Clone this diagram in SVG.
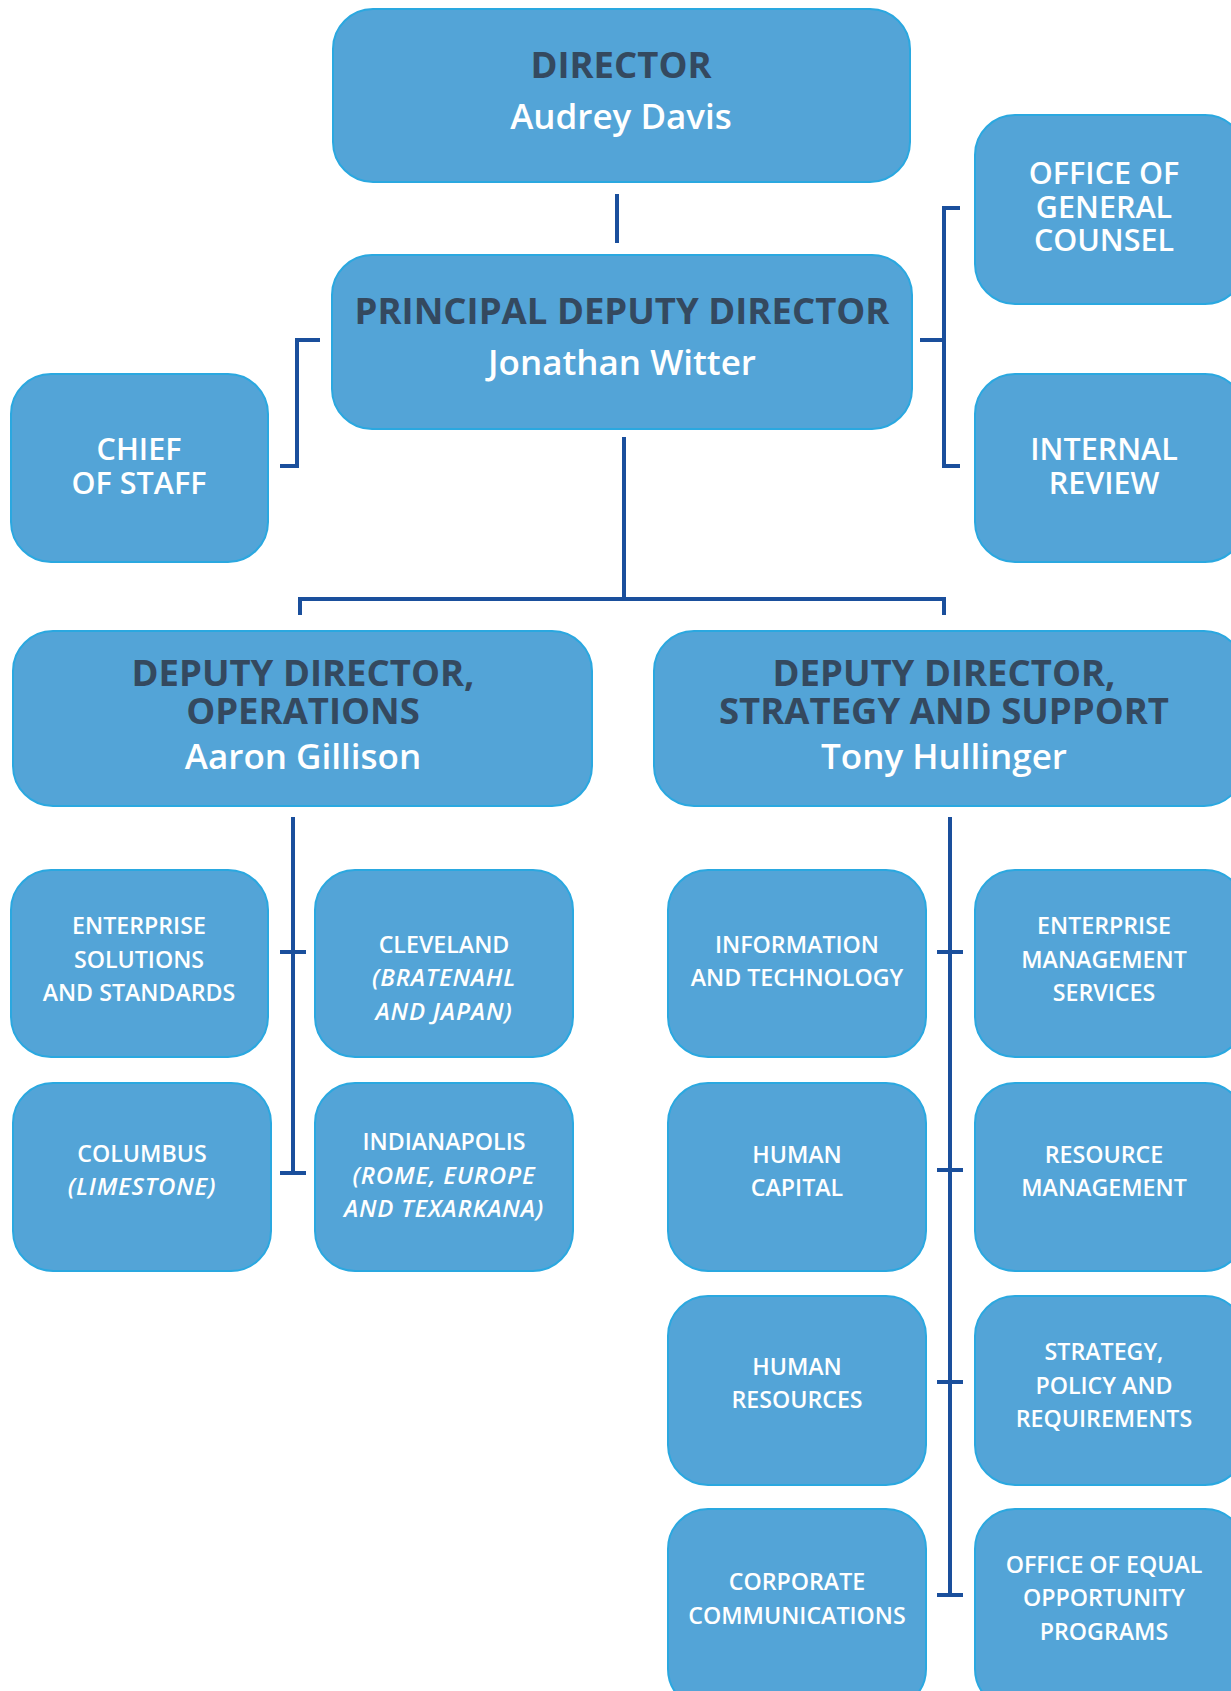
<svg xmlns="http://www.w3.org/2000/svg" width="1231" height="1691" viewBox="0 0 1231 1691">
<style>
.box{fill:#53a4d7;stroke:#2aa8e0;stroke-width:2}
.t{font-family:"Open Sans","Noto Sans","Liberation Sans",sans-serif;text-anchor:middle}
.dk{fill:#34495f;font-weight:700;font-size:36.5px}
.nm{fill:#ffffff;font-weight:600;font-size:35px}
.md{fill:#ffffff;font-weight:600;font-size:30.5px}
.sm{fill:#ffffff;font-weight:600;font-size:23.2px}
.it{font-style:italic;font-size:24px;letter-spacing:0.8px}
.ln{stroke:#1a4f9c;stroke-width:4;fill:none}
</style>
<rect width="1231" height="1691" fill="#ffffff"/>
<g id="connectors">
<path class="ln" d="M617 194V243"/>
<path class="ln" d="M320 340H297V466H280"/>
<path class="ln" d="M960 208H944V466H960M920 340H944"/>
<path class="ln" d="M624 437V599M300 615V599H944V615"/>
<path class="ln" d="M293 817V1173M280 952H306M280 1173H306"/>
<path class="ln" d="M950 817V1595M937 952H963M937 1170H963M937 1382H963M937 1595H963"/>
</g>
<g id="director"><rect class="box" x="333" y="9" width="577" height="173" rx="40"/>
<text class="t dk" x="621" y="78">DIRECTOR</text>
<text class="t nm" x="621" y="129">Audrey Davis</text></g>
<g id="pdd"><rect class="box" x="332" y="255" width="580" height="174" rx="40"/>
<text class="t dk" x="622" y="324">PRINCIPAL DEPUTY DIRECTOR</text>
<text class="t nm" x="622" y="375">Jonathan Witter</text></g>
<g id="chief-of-staff"><rect class="box" x="11" y="374" width="257" height="188" rx="40"/>
<text class="t md" x="139" y="460">CHIEF</text>
<text class="t md" x="139" y="494">OF STAFF</text></g>
<g id="general-counsel"><rect class="box" x="975" y="115" width="270" height="189" rx="40"/>
<text class="t md" x="1104" y="184">OFFICE OF</text>
<text class="t md" x="1104" y="218">GENERAL</text>
<text class="t md" x="1104" y="251">COUNSEL</text></g>
<g id="internal-review"><rect class="box" x="975" y="374" width="270" height="188" rx="40"/>
<text class="t md" x="1104" y="460">INTERNAL</text>
<text class="t md" x="1104" y="494">REVIEW</text></g>
<g id="dd-operations"><rect class="box" x="13" y="631" width="579" height="175" rx="40"/>
<text class="t dk" x="303" y="686">DEPUTY DIRECTOR,</text>
<text class="t dk" x="303" y="724">OPERATIONS</text>
<text class="t nm" x="303" y="769">Aaron Gillison</text></g>
<g id="dd-strategy"><rect class="box" x="654" y="631" width="590" height="175" rx="40"/>
<text class="t dk" x="944" y="686">DEPUTY DIRECTOR,</text>
<text class="t dk" x="944" y="724">STRATEGY AND SUPPORT</text>
<text class="t nm" x="944" y="769">Tony Hullinger</text></g>
<g id="enterprise-solutions"><rect class="box" x="11" y="870" width="257" height="187" rx="40"/>
<text class="t sm" x="139" y="934">ENTERPRISE</text>
<text class="t sm" x="139" y="968">SOLUTIONS</text>
<text class="t sm" x="139" y="1001">AND STANDARDS</text></g>
<g id="cleveland"><rect class="box" x="315" y="870" width="258" height="187" rx="40"/>
<text class="t sm" x="444" y="953">CLEVELAND</text>
<text class="t sm it" x="444" y="986">(BRATENAHL</text>
<text class="t sm it" x="444" y="1020">AND JAPAN)</text></g>
<g id="columbus"><rect class="box" x="13" y="1083" width="258" height="188" rx="40"/>
<text class="t sm" x="142" y="1162">COLUMBUS</text>
<text class="t sm it" x="142" y="1195">(LIMESTONE)</text></g>
<g id="indianapolis"><rect class="box" x="315" y="1083" width="258" height="188" rx="40"/>
<text class="t sm" x="444" y="1150">INDIANAPOLIS</text>
<text class="t sm it" x="444" y="1184">(ROME, EUROPE</text>
<text class="t sm it" x="444" y="1217">AND TEXARKANA)</text></g>
<g id="information-technology"><rect class="box" x="668" y="870" width="258" height="187" rx="40"/>
<text class="t sm" x="797" y="953">INFORMATION</text>
<text class="t sm" x="797" y="986">AND TECHNOLOGY</text></g>
<g id="enterprise-management"><rect class="box" x="975" y="870" width="270" height="187" rx="40"/>
<text class="t sm" x="1104" y="934">ENTERPRISE</text>
<text class="t sm" x="1104" y="968">MANAGEMENT</text>
<text class="t sm" x="1104" y="1001">SERVICES</text></g>
<g id="human-capital"><rect class="box" x="668" y="1083" width="258" height="188" rx="40"/>
<text class="t sm" x="797" y="1163">HUMAN</text>
<text class="t sm" x="797" y="1196">CAPITAL</text></g>
<g id="resource-management"><rect class="box" x="975" y="1083" width="270" height="188" rx="40"/>
<text class="t sm" x="1104" y="1163">RESOURCE</text>
<text class="t sm" x="1104" y="1196">MANAGEMENT</text></g>
<g id="human-resources"><rect class="box" x="668" y="1296" width="258" height="189" rx="40"/>
<text class="t sm" x="797" y="1375">HUMAN</text>
<text class="t sm" x="797" y="1408">RESOURCES</text></g>
<g id="strategy-policy"><rect class="box" x="975" y="1296" width="270" height="189" rx="40"/>
<text class="t sm" x="1104" y="1360">STRATEGY,</text>
<text class="t sm" x="1104" y="1394">POLICY AND</text>
<text class="t sm" x="1104" y="1427">REQUIREMENTS</text></g>
<g id="corporate-communications"><rect class="box" x="668" y="1509" width="258" height="200" rx="40"/>
<text class="t sm" x="797" y="1590">CORPORATE</text>
<text class="t sm" x="797" y="1624">COMMUNICATIONS</text></g>
<g id="equal-opportunity"><rect class="box" x="975" y="1509" width="270" height="200" rx="40"/>
<text class="t sm" x="1104" y="1573">OFFICE OF EQUAL</text>
<text class="t sm" x="1104" y="1606">OPPORTUNITY</text>
<text class="t sm" x="1104" y="1640">PROGRAMS</text></g>
</svg>
